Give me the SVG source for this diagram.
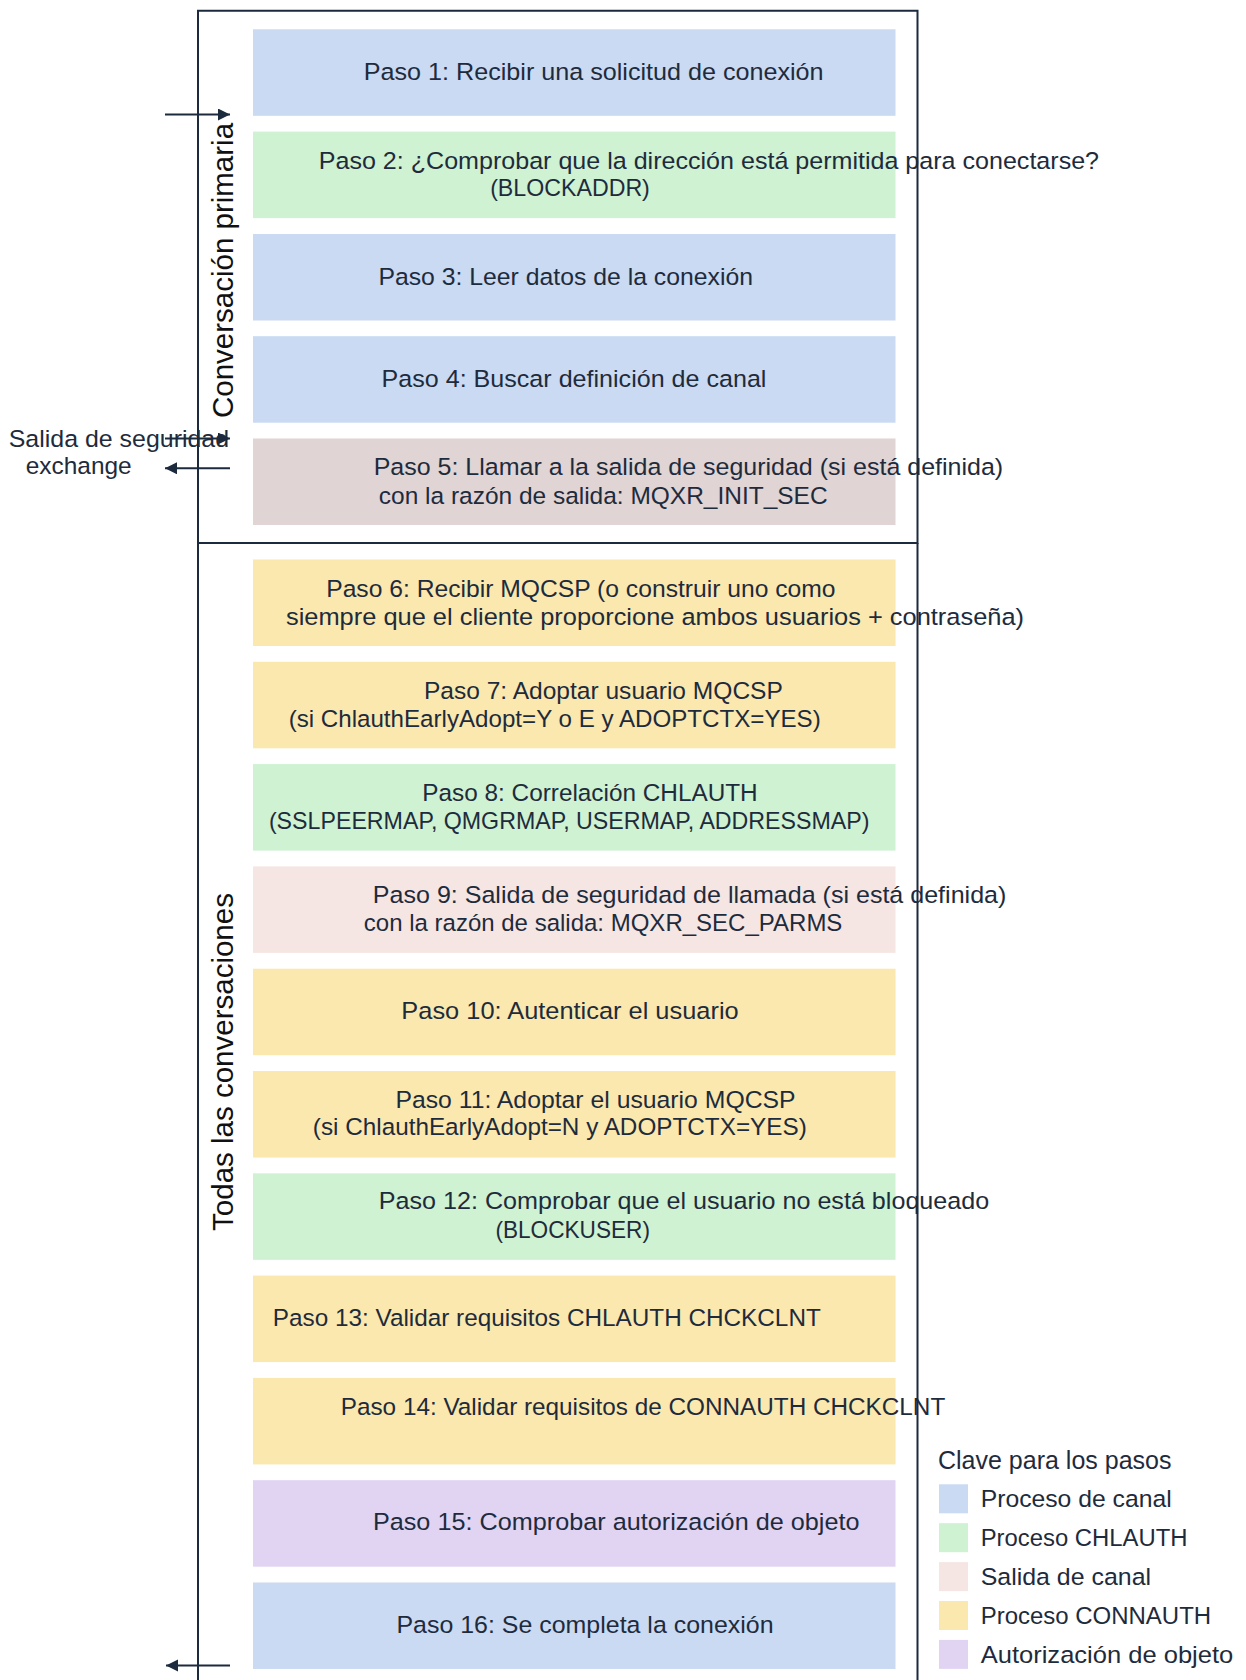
<svg xmlns="http://www.w3.org/2000/svg" width="1246" height="1680" viewBox="0 0 1246 1680">
<defs>
<style>
.t{font-family:"Liberation Sans",Arial,sans-serif;font-size:24.5px;fill:#1e2b3c;text-anchor:middle}
.l{font-family:"Liberation Sans",Arial,sans-serif;font-size:24.5px;fill:#1e2b3c}
.v{font-family:"Liberation Sans",Arial,sans-serif;font-size:29.5px;fill:#111111;text-anchor:middle}
.h{font-family:"Liberation Sans",Arial,sans-serif;font-size:25px;fill:#1e2b3c}
.blue{fill:#c9daf2}
.green{fill:#cef2d2}
.exit5{fill:#e0d4d4}
.pink{fill:#f5e6e3}
.yellow{fill:#fae8ae}
.purple{fill:#e1d4f3}
.frame{fill:none;stroke:#1c2a3d;stroke-width:2}
.conn{fill:none;stroke:#1c2a3d;stroke-width:2}
</style>
<marker id="ah" markerUnits="userSpaceOnUse" markerWidth="13" markerHeight="13" refX="12" refY="6" orient="auto">
<path d="M0,0 L12,6 L0,12 Z" fill="#1c2a3d"/>
</marker>
</defs>
<rect width="1246" height="1680" fill="#ffffff"/>

<g id="step1"><rect class="blue" x="253" y="29.3" width="642.5" height="86.5"/><text class="t" x="593.7" y="80.4" textLength="459.8" lengthAdjust="spacingAndGlyphs">Paso 1: Recibir una solicitud de conexión</text></g>
<g id="step2"><rect class="green" x="253" y="131.6" width="642.5" height="86.5"/><text class="t" x="708.9" y="168.6" textLength="780.3" lengthAdjust="spacingAndGlyphs">Paso 2: ¿Comprobar que la dirección está permitida para conectarse?</text><text class="t" x="570" y="196.4" textLength="159.7" lengthAdjust="spacingAndGlyphs">(BLOCKADDR)</text></g>
<g id="step3"><rect class="blue" x="253" y="234" width="642.5" height="86.5"/><text class="t" x="565.7" y="284.6" textLength="374.6" lengthAdjust="spacingAndGlyphs">Paso 3: Leer datos de la conexión</text></g>
<g id="step4"><rect class="blue" x="253" y="336.2" width="642.5" height="86.5"/><text class="t" x="574" y="386.8" textLength="384.9" lengthAdjust="spacingAndGlyphs">Paso 4: Buscar definición de canal</text></g>
<g id="step5"><rect class="exit5" x="253" y="438.5" width="642.5" height="86.5"/><text class="t" x="688.4" y="475" textLength="629.5" lengthAdjust="spacingAndGlyphs">Paso 5: Llamar a la salida de seguridad (si está definida)</text><text class="t" x="603.2" y="503.6" textLength="448.8" lengthAdjust="spacingAndGlyphs">con la razón de salida: MQXR_INIT_SEC</text></g>
<g id="step6"><rect class="yellow" x="253" y="559.5" width="642.5" height="86.5"/><text class="t" x="580.9" y="596.5" textLength="509.4" lengthAdjust="spacingAndGlyphs">Paso 6: Recibir MQCSP (o construir uno como</text><text class="t" x="655" y="624.5" textLength="738.1" lengthAdjust="spacingAndGlyphs">siempre que el cliente proporcione ambos usuarios + contraseña)</text></g>
<g id="step7"><rect class="yellow" x="253" y="661.8" width="642.5" height="86.5"/><text class="t" x="603.4" y="699" textLength="359" lengthAdjust="spacingAndGlyphs">Paso 7: Adoptar usuario MQCSP</text><text class="t" x="554.7" y="726.7" textLength="532.1" lengthAdjust="spacingAndGlyphs">(si ChlauthEarlyAdopt=Y o E y ADOPTCTX=YES)</text></g>
<g id="step8"><rect class="green" x="253" y="764.1" width="642.5" height="86.5"/><text class="t" x="590" y="801.3" textLength="335.4" lengthAdjust="spacingAndGlyphs">Paso 8: Correlación CHLAUTH</text><text class="t" x="569.2" y="829.2" textLength="600.6" lengthAdjust="spacingAndGlyphs">(SSLPEERMAP, QMGRMAP, USERMAP, ADDRESSMAP)</text></g>
<g id="step9"><rect class="pink" x="253" y="866.4" width="642.5" height="86.5"/><text class="t" x="689.6" y="902.7" textLength="633.5" lengthAdjust="spacingAndGlyphs">Paso 9: Salida de seguridad de llamada (si está definida)</text><text class="t" x="603.1" y="930.6" textLength="478.6" lengthAdjust="spacingAndGlyphs">con la razón de salida: MQXR_SEC_PARMS</text></g>
<g id="step10"><rect class="yellow" x="253" y="968.7" width="642.5" height="86.5"/><text class="t" x="570" y="1019.4" textLength="337.3" lengthAdjust="spacingAndGlyphs">Paso 10: Autenticar el usuario</text></g>
<g id="step11"><rect class="yellow" x="253" y="1071" width="642.5" height="86.5"/><text class="t" x="595.5" y="1107.5" textLength="400.2" lengthAdjust="spacingAndGlyphs">Paso 11: Adoptar el usuario MQCSP</text><text class="t" x="559.8" y="1135.1" textLength="493.9" lengthAdjust="spacingAndGlyphs">(si ChlauthEarlyAdopt=N y ADOPTCTX=YES)</text></g>
<g id="step12"><rect class="green" x="253" y="1173.3" width="642.5" height="86.5"/><text class="t" x="684" y="1209.1" textLength="610.5" lengthAdjust="spacingAndGlyphs">Paso 12: Comprobar que el usuario no está bloqueado</text><text class="t" x="572.7" y="1237.6" textLength="154.5" lengthAdjust="spacingAndGlyphs">(BLOCKUSER)</text></g>
<g id="step13"><rect class="yellow" x="253" y="1275.6" width="642.5" height="86.5"/><text class="t" x="546.8" y="1325.7" textLength="548" lengthAdjust="spacingAndGlyphs">Paso 13: Validar requisitos CHLAUTH CHCKCLNT</text></g>
<g id="step14"><rect class="yellow" x="253" y="1377.9" width="642.5" height="86.5"/><text class="t" x="643" y="1414.5" textLength="604.5" lengthAdjust="spacingAndGlyphs">Paso 14: Validar requisitos de CONNAUTH CHCKCLNT</text></g>
<g id="step15"><rect class="purple" x="253" y="1480.2" width="642.5" height="86.5"/><text class="t" x="616.2" y="1530.3" textLength="486.6" lengthAdjust="spacingAndGlyphs">Paso 15: Comprobar autorización de objeto</text></g>
<g id="step16"><rect class="blue" x="253" y="1582.5" width="642.5" height="86.5"/><text class="t" x="585" y="1632.7" textLength="377.1" lengthAdjust="spacingAndGlyphs">Paso 16: Se completa la conexión</text></g>

<g id="frame">
<path class="frame" d="M198,10.7 H917.5 V543 H198 Z"/>
<path class="frame" d="M198,543 V1682 M917.5,543 V1682"/>
<text class="v" transform="translate(233,270.5) rotate(-90)">Conversación primaria</text>
<text class="v" transform="translate(233,1062) rotate(-90)">Todas las conversaciones</text>
</g>

<g id="exit-label">
<text class="l" x="118.9" y="447" text-anchor="middle" textLength="220.3" lengthAdjust="spacingAndGlyphs">Salida de seguridad</text>
<text class="l" x="78.7" y="473.5" text-anchor="middle" textLength="106" lengthAdjust="spacingAndGlyphs">exchange</text>
</g>

<g id="connectors">
<path class="conn" d="M165,114.5 H230" marker-end="url(#ah)"/>
<path class="conn" d="M165,438.5 H230" marker-end="url(#ah)"/>
<path class="conn" d="M230,468.3 H165" marker-end="url(#ah)"/>
<path class="conn" d="M230,1665.5 H166" marker-end="url(#ah)"/>
</g>

<g id="legend">
<text class="h" x="938" y="1469.2">Clave para los pasos</text>
<rect class="blue" x="939" y="1484.3" width="29" height="29"/><text class="l" x="980.7" y="1507" textLength="191" lengthAdjust="spacingAndGlyphs">Proceso de canal</text>
<rect class="green" x="939" y="1523.2" width="29" height="29"/><text class="l" x="980.7" y="1546" textLength="206.8" lengthAdjust="spacingAndGlyphs">Proceso CHLAUTH</text>
<rect class="pink" x="939" y="1562.1" width="29" height="29"/><text class="l" x="980.7" y="1585" textLength="170.4" lengthAdjust="spacingAndGlyphs">Salida de canal</text>
<rect class="yellow" x="939" y="1601" width="29" height="29"/><text class="l" x="980.7" y="1624" textLength="230.4" lengthAdjust="spacingAndGlyphs">Proceso CONNAUTH</text>
<rect class="purple" x="939" y="1639.9" width="29" height="29"/><text class="l" x="980.7" y="1663" textLength="252.6" lengthAdjust="spacingAndGlyphs">Autorización de objeto</text>
</g>
</svg>
